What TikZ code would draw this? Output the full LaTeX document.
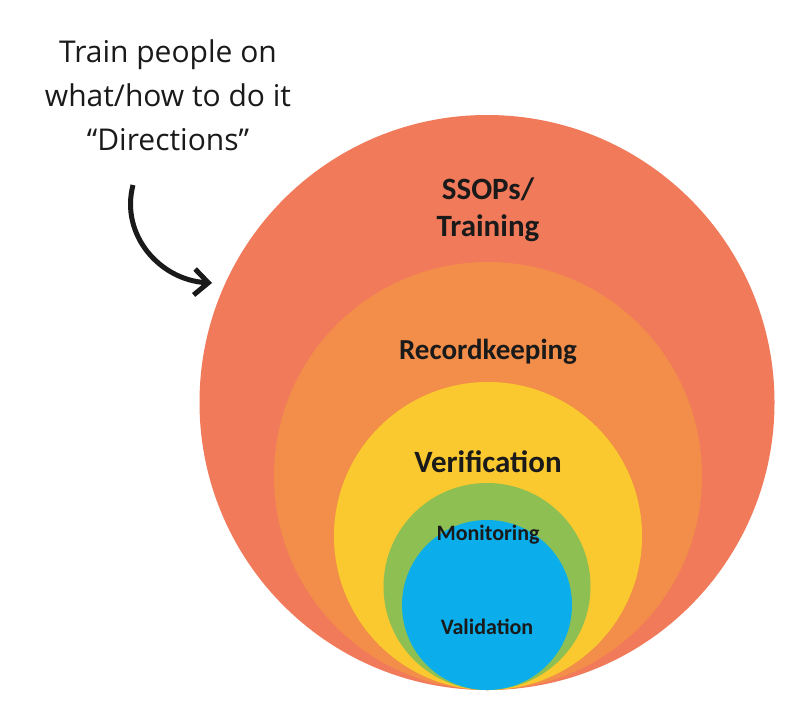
\documentclass[tikz,border=0pt]{standalone}
\usepackage{fontspec}
\setmainfont{Carlito}
\newfontfamily\capfont{Open Sans}
\usetikzlibrary{arrows.meta}
\definecolor{cA}{HTML}{F17A5A}
\definecolor{cB}{HTML}{F28E4A}
\definecolor{cC}{HTML}{FAC92F}
\definecolor{cD}{HTML}{8EBF52}
\definecolor{cE}{HTML}{0BAEEA}
\definecolor{txt}{HTML}{1A1A1A}
\begin{document}
\begin{tikzpicture}[x=1pt,y=-1pt,
  lbl/.style={font=\bfseries, text=txt, align=center, inner sep=0pt}]
\useasboundingbox (0,0) rectangle (800,710);
\fill[white] (0,0) rectangle (800,710);
\fill[cA] (487,402.5) circle (287.5);
\fill[cB] (488,476) circle (214);
\fill[cC] (488,536) circle (154);
\fill[cD] (487,586.5) circle (103.5);
\fill[cE] (487,605) circle (85);
\node[lbl, font=\bfseries\fontsize{31}{37}\selectfont] (s) at (488,210) {SSOPs/\\Training};
\node[lbl, font=\bfseries\fontsize{29}{34}\selectfont] (r) at (488,352) {Recordkeeping};
\node[lbl, font=\bfseries\fontsize{31}{36}\selectfont] (v) at (488,462) {Verification};
\node[lbl, font=\bfseries\fontsize{22}{26}\selectfont] (m) at (488,535) {Monitoring};
\node[lbl, font=\bfseries\fontsize{22}{26}\selectfont] (va) at (487,627) {Validation};
\node[align=center, text=txt, inner sep=0pt, font=\capfont\fontsize{30}{44}\selectfont] (t) at (168,95)
  {Train people on\\what/how to do it\\“Directions”};
\coordinate (a0) at (133,185);
\coordinate (a1) at (212,283);
\draw[line width=5pt, txt, -{Straight Barb[length=14pt,width=26pt,line width=5pt]}]
  (a0) .. controls (120,235) and (160,280) .. (a1);
\end{tikzpicture}
\end{document}
